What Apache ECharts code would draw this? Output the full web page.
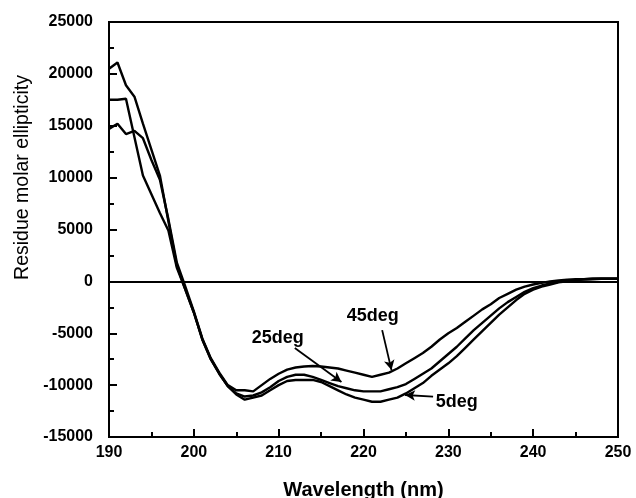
<!DOCTYPE html>
<html>
<head>
<meta charset="utf-8">
<script src="https://cdn.jsdelivr.net/npm/echarts@6/dist/echarts.min.js"></script>
<style>
html,body{margin:0;padding:0;background:#fff;}
#c{width:636px;height:498px;}
</style>
</head>
<body>
<div id="c"></div>
<script>
// Wavelength (nm)
var wavelengths = [];
for (var w = 190; w <= 250; w++) wavelengths.push(w);

// Residue molar ellipticity (x1000)
var deg5 = [20.5,21.1,18.9,17.8,15.2,12.7,10.2,5.8,1.5,-0.8,
  -3.0,-5.6,-7.5,-8.9,-10.1,-10.9,-11.4,-11.2,-11.0,-10.5,
  -10.0,-9.6,-9.5,-9.5,-9.5,-9.7,-10.1,-10.5,-10.9,-11.2,
  -11.4,-11.6,-11.6,-11.4,-11.2,-10.8,-10.3,-9.8,-9.1,-8.5,
  -7.9,-7.2,-6.4,-5.6,-4.8,-4.0,-3.2,-2.5,-1.8,-1.2,
  -0.8,-0.5,-0.3,-0.1,0.0,0.1,0.2,0.2,0.25,0.25,0.25];
var deg25 = [17.5,17.5,17.6,13.9,10.2,8.4,6.6,4.9,1.3,-0.8,
  -3.0,-5.6,-7.5,-8.9,-10.1,-10.8,-11.1,-11.0,-10.7,-10.2,
  -9.6,-9.2,-9.0,-9.0,-9.2,-9.5,-9.8,-10.1,-10.3,-10.5,
  -10.6,-10.6,-10.6,-10.4,-10.2,-9.9,-9.4,-8.9,-8.4,-7.7,
  -7.0,-6.3,-5.5,-4.7,-4.0,-3.3,-2.6,-2.0,-1.5,-1.0,
  -0.65,-0.4,-0.2,-0.05,0.05,0.15,0.2,0.25,0.25,0.25,0.25];
var deg45 = [14.7,15.2,14.2,14.5,13.8,11.7,9.8,6.0,1.8,-0.5,
  -2.9,-5.5,-7.4,-8.8,-10.0,-10.5,-10.5,-10.6,-10.0,-9.4,
  -8.9,-8.5,-8.3,-8.2,-8.15,-8.2,-8.3,-8.4,-8.6,-8.8,
  -9.0,-9.2,-9.0,-8.8,-8.4,-7.9,-7.4,-6.9,-6.3,-5.6,
  -5.0,-4.5,-3.9,-3.3,-2.7,-2.2,-1.6,-1.2,-0.8,-0.5,
  -0.3,-0.15,0.0,0.1,0.15,0.2,0.2,0.25,0.25,0.25,0.25];

var xTicks = [190,200,210,220,230,240,250];
var yTicks = [-15000,-10000,-5000,0,5000,10000,15000,20000,25000];

// annotations: [label, textPos, arrowStart, arrowEnd] in data units
var annotations = [
  ['45deg', [221.1,-3330], [222.2,-4700], [223.3,-8550]],
  ['25deg', [209.9,-5460], [211.9,-6420], [217.4,-9700]],
  ['5deg',  [231.0,-11600], [228.2,-11100], [224.9,-10950]]
];

function pairs(arr){ return wavelengths.map(function(x,i){ return [x, arr[i]*1000]; }); }

var chart = echarts.init(document.getElementById('c'), null, {renderer:'canvas'});
var font = 'Liberation Sans, Arial, sans-serif';
var lineStyle = {color:'#000', width:2.4};

var series = [deg5, deg25, deg45].map(function(d, i){
  var s = {type:'line', data:pairs(d), showSymbol:false, symbol:'none', lineStyle:lineStyle, silent:true, z:3};
  if (i === 0) {
    s.markLine = {silent:true, symbol:'none', animation:false,
      lineStyle:{color:'#000', width:2, type:'solid'}, label:{show:false},
      data:[{yAxis:0}]};
  }
  return s;
});
series.push({
  type:'line', data:[], silent:true,
  markLine:{silent:true, animation:false, symbol:['none','arrow'], symbolSize:[8,10],
    lineStyle:{color:'#000', width:1.8, type:'solid'}, label:{show:false},
    data: annotations.map(function(a){ return [{coord:a[2]},{coord:a[3]}]; })}
});

chart.setOption({
  animation:false,
  backgroundColor:'#fff',
  grid:{left:109, right:18, top:22, bottom:61, containLabel:false, outerBoundsMode:'none',
    show:true, borderColor:'#000', borderWidth:2, backgroundColor:'transparent'},
  xAxis:{type:'value', min:190, max:250, interval:10,
    name:'Wavelength (nm)', nameLocation:'middle', nameGap:43,
    nameTextStyle:{fontFamily:font, fontSize:20, fontWeight:'bold', color:'#000'},
    axisLine:{show:true, onZero:false, lineStyle:{color:'#000', width:2}},
    axisTick:{show:true, inside:true, length:8, lineStyle:{color:'#000', width:2}},
    minorTick:{show:true, splitNumber:2, length:5, lineStyle:{color:'#000', width:2}},
    axisLabel:{fontFamily:font, fontSize:16, fontWeight:'bold', color:'#000', margin:8,
      formatter:function(v){ return xTicks.indexOf(v) >= 0 ? String(v) : ''; }},
    splitLine:{show:false}},
  yAxis:{type:'value', min:-15000, max:25000, interval:5000,
    name:'Residue molar ellipticity', nameLocation:'middle', nameGap:73,
    nameTextStyle:{fontFamily:font, fontSize:19.5, color:'#000', padding:[0,0,0,104]},
    axisLine:{show:true, onZero:false, lineStyle:{color:'#000', width:2}},
    axisTick:{show:true, inside:true, length:8, lineStyle:{color:'#000', width:2}},
    minorTick:{show:true, splitNumber:2, length:5, lineStyle:{color:'#000', width:2}},
    axisLabel:{fontFamily:font, fontSize:16, fontWeight:'bold', color:'#000', margin:16,
      formatter:function(v){ return yTicks.indexOf(v) >= 0 ? String(v) : ''; }},
    splitLine:{show:false}},
  series:series
});

var g = annotations.map(function(a){
  var p = chart.convertToPixel({gridIndex:0}, a[1]);
  return {type:'text', x:p[0], y:p[1], z:10, silent:true,
    style:{text:a[0], fill:'#000', font:'bold 18px Liberation Sans, Arial, sans-serif', align:'center', verticalAlign:'middle'}};
});
chart.setOption({graphic:g});
</script>
</body>
</html>
